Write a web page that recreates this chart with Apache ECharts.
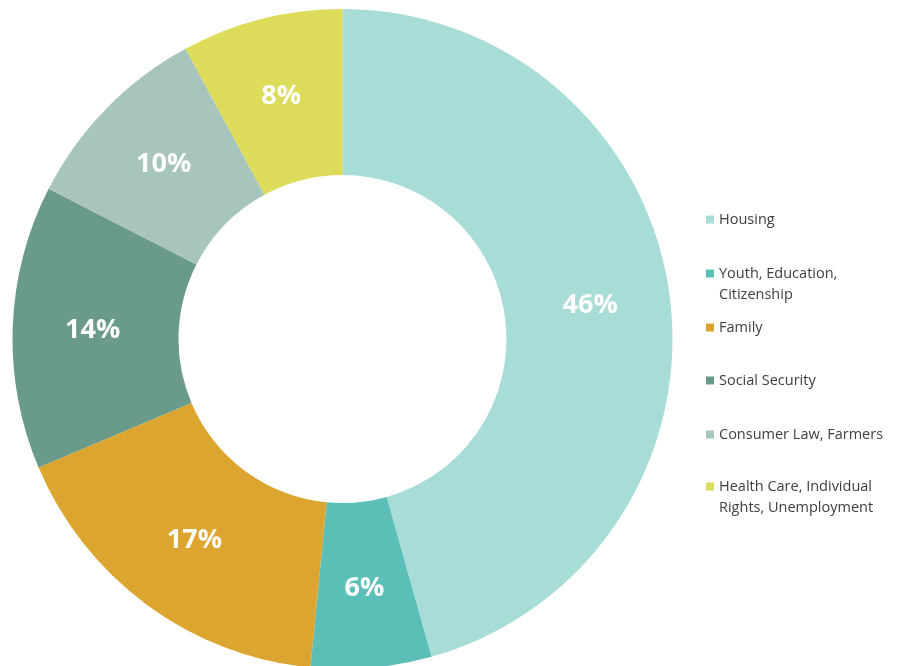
<!DOCTYPE html>
<html>
<head>
<meta charset="utf-8">
<script src="https://cdn.jsdelivr.net/npm/echarts@6/dist/echarts.min.js"></script>
<style>html,body{margin:0;padding:0;background:#fff;}#c{width:898px;height:666px;}</style>
</head>
<body>
<div id="c"></div>
<script>
var categories = ['Housing', 'Youth, Education, Citizenship', 'Family', 'Social Security', 'Consumer Law, Farmers', 'Health Care, Individual Rights, Unemployment'];
var legendLabels = ['Housing', 'Youth, Education,\nCitizenship', 'Family', 'Social Security', 'Consumer Law, Farmers', 'Health Care, Individual\nRights, Unemployment'];
var values = [45.7, 5.9, 17.1, 13.9, 9.6, 7.9];
var colors = ['#a8dcd7', '#5bbfb8', '#dba52f', '#6a9a8a', '#a7c4bd', '#dcdb5a'];
var legendTops = [209, 242, 317, 370, 424, 455];

var chart = echarts.init(document.getElementById('c'));
var legends = categories.map(function (name, i) {
  var twoLine = legendLabels[i].indexOf('\n') >= 0;
  return {
    orient: 'vertical',
    left: 706,
    top: legendTops[i],
    itemWidth: 8,
    itemHeight: 8,
    itemGap: 0,
    padding: 0,
    selectedMode: false,
    icon: 'rect',
    data: [{ name: name, itemStyle: { color: colors[i] } }],
    formatter: function () { return twoLine ? ' \n' + legendLabels[i] : legendLabels[i]; },
    textStyle: {
      fontFamily: 'Open Sans',
      fontSize: 14.5,
      color: '#404040',
      lineHeight: 21
    }
  };
});

chart.setOption({
  animation: false,
  legend: legends,
  series: [{
    type: 'pie',
    center: [342.5, 339],
    radius: [164, 330],
    startAngle: 90,
    clockwise: true,
    avoidLabelOverlap: false,
    label: {
      show: true,
      position: 'inside',
      color: '#fff',
      fontFamily: 'Open Sans',
      fontWeight: 'bold',
      fontSize: 27,
      formatter: function (p) { return Math.round(p.value) + '%'; }
    },
    labelLine: { show: false },
    itemStyle: { borderWidth: 0 },
    emphasis: { disabled: true },
    data: categories.map(function (n, i) {
      return { name: n, value: values[i], itemStyle: { color: colors[i] } };
    })
  }]
});
</script>
</body>
</html>
